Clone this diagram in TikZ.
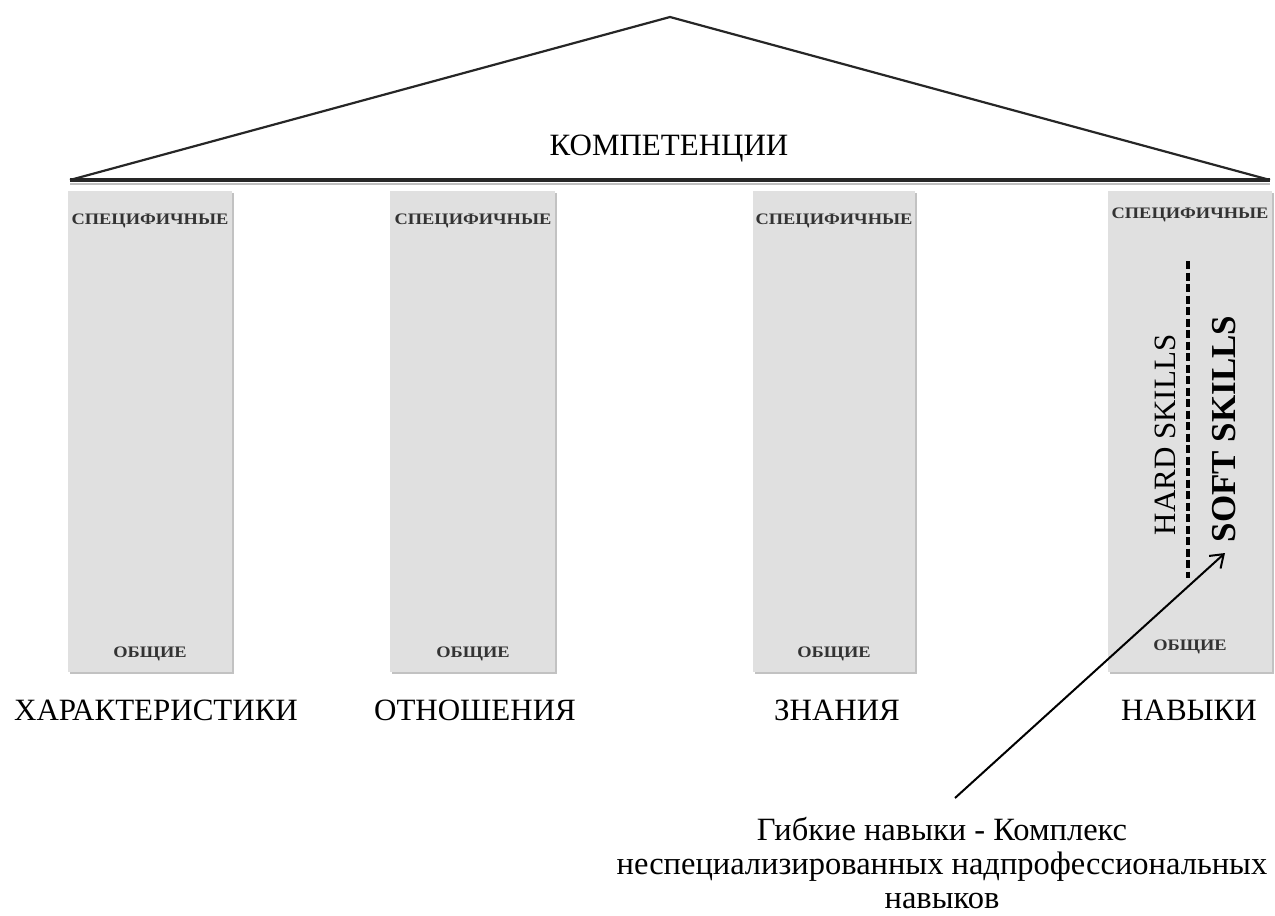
\documentclass[tikz,border=0pt]{standalone}
\usepackage{fontspec}
\setmainfont{Liberation Serif}
\usetikzlibrary{arrows.meta}
\begin{document}
\begin{tikzpicture}[x=1pt,y=-1pt,
  pillar/.style={fill=black!12,draw=none},
  pshadow/.style={fill=black!24,draw=none},
  small/.style={font=\fontsize{16}{18}\selectfont\bfseries,anchor=base,text=black!80,xscale=1.15},
  big/.style={font=\fontsize{31}{36}\selectfont,anchor=base},
  roof/.style={line width=2.2pt,line join=miter,draw=black!85},
]
\useasboundingbox (0,0) rectangle (1275,916);

% roof
\coordinate (apex) at (670,17);
\coordinate (rl) at (70,180);
\coordinate (rr) at (1270,180);
\draw[black!25,line width=2.5pt] (70,184) -- (1270,184);
\draw[roof] (rl) -- (apex) -- (rr);
\draw[line width=3.2pt,black!85] (rl) -- (rr);
\node[big] (komp) at (669,155) {КОМПЕТЕНЦИИ};

% pillars
\foreach \x/\w in {68/164,390/165,753/162,1108/164}{
  \fill[pshadow] (\x+1.5,193) rectangle ++(\w,481);
  \fill[pillar] (\x,191) rectangle ++(\w,481);
}

\node[small] (s1) at (150,224) {СПЕЦИФИЧНЫЕ};
\node[small] (s2) at (473,224) {СПЕЦИФИЧНЫЕ};
\node[small] (s3) at (834,224) {СПЕЦИФИЧНЫЕ};
\node[small] (s4) at (1190,218) {СПЕЦИФИЧНЫЕ};

\node[small] (o1) at (150,657) {ОБЩИЕ};
\node[small] (o2) at (473,657) {ОБЩИЕ};
\node[small] (o3) at (834,657) {ОБЩИЕ};
\node[small] (o4) at (1190,650) {ОБЩИЕ};

% column labels
\node[big] (l1) at (156,720) {ХАРАКТЕРИСТИКИ};
\node[big] (l2) at (475,720) {ОТНОШЕНИЯ};
\node[big] (l3) at (837,720) {ЗНАНИЯ};
\node[big] (l4) at (1189,720) {НАВЫКИ};

% hard / soft split
\draw[line width=3.2pt,dash pattern=on 8pt off 3.5pt] (1188,261) -- (1188,578);
\node[font=\fontsize{31}{36}\selectfont,rotate=90] (hard) at (1165,435) {HARD SKILLS};
\node[font=\fontsize{35}{40}\selectfont\bfseries,rotate=90] (soft) at (1224,429) {SOFT SKILLS};

% note
\node[font=\fontsize{32.5}{34}\selectfont,align=center,anchor=north,inner sep=1pt] (note) at (942,816)
  {Гибкие навыки - Комплекс\\неспециализированных надпрофессиональных\\навыков};
\coordinate (from) at (955,798);
\coordinate (to) at (1225,553);
\draw[line width=2pt,-{Straight Barb[length=12pt,width=17pt,line width=2pt]}] (from) -- (to);
\end{tikzpicture}
\end{document}
